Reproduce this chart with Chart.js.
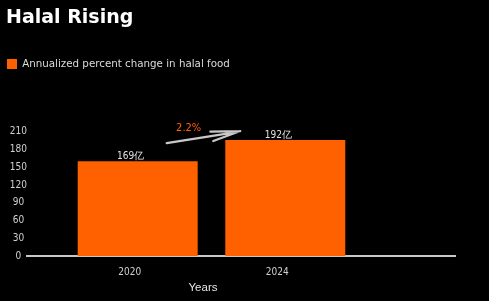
<!DOCTYPE html>
<html>
<head>
<meta charset="utf-8">
<script src="https://cdn.jsdelivr.net/npm/chart.js@4"></script>
<style>
  html, body { margin: 0; padding: 0; background: #000; }
  #wrap { width: 489px; height: 301px; }
</style>
</head>
<body>
<div id="wrap"><canvas id="c" width="489" height="301"></canvas></div>
<script>
// ---- data ----
const years = ['2020', '2024'];
const barValues = [160, 196];            // bar heights
const valueLabels = ['169亿', '192亿'];   // labels printed above the bars
const growthLabel = '2.2%';
const seriesName = 'Annualized percent change in halal food';
const titleText = 'Halal Rising';
const xTitle = 'Years';
const yTicks = [0, 30, 60, 90, 120, 150, 180, 210];

const ORANGE = 'rgb(255,96,0)';
const NARROW = '"Liberation Sans Narrow", "DejaVu Sans Condensed", "Liberation Sans", sans-serif';

const annotations = {
  id: 'annotations',
  beforeInit(chart) {
    const lg = chart.legend;
    const orig = lg.fit;
    lg.fit = function () {
      orig.call(this);
      this.height = 74;
    };
  },
  afterDatasetsDraw(chart) {
    const ctx = chart.ctx;
    const bars = chart.getDatasetMeta(0).data;
    const area = chart.chartArea;
    ctx.save();
    // value labels
    ctx.font = '10px ' + NARROW;
    ctx.fillStyle = '#e0e0e0';
    ctx.textAlign = 'center';
    ctx.textBaseline = 'middle';
    bars.forEach((b, i) => {
      ctx.fillText(valueLabels[i], b.x - 7, b.y - 5);
    });
    // growth arrow
    const b1 = bars[0], b2 = bars[1];
    const tail = { x: b1.x + b1.width / 2 - 31, y: b2.y + 3 };
    const tip = { x: b2.x - b2.width / 2 + 15, y: b2.y - 9 };
    ctx.strokeStyle = '#c8c8c8';
    ctx.lineWidth = 2.2;
    ctx.lineCap = 'round';
    ctx.beginPath();
    ctx.moveTo(tail.x, tail.y);
    ctx.lineTo(tip.x - 4, tip.y + 1);
    ctx.moveTo(tip.x, tip.y);
    ctx.lineTo(tip.x - 30, tip.y + 0.5);
    ctx.moveTo(tip.x, tip.y);
    ctx.lineTo(tip.x - 27, tip.y + 10);
    ctx.stroke();
    ctx.font = '11px ' + NARROW;
    ctx.fillStyle = ORANGE;
    ctx.fillText(growthLabel, tail.x + 22, tail.y - 15);
    // x axis title
    ctx.font = '11.5px "Liberation Sans", sans-serif';
    ctx.fillStyle = '#e6e6e6';
    ctx.fillText(xTitle, (area.left + area.right) / 2 - 38, 288);
    ctx.restore();
  }
};

new Chart(document.getElementById('c'), {
  type: 'bar',
  data: {
    datasets: [{
      label: seriesName,
      data: years.map((y, i) => ({ x: i, y: barValues[i] })),
      backgroundColor: ORANGE,
      borderWidth: 0,
      barPercentage: 1,
      categoryPercentage: 0.813
    }]
  },
  options: {
    responsive: false,
    devicePixelRatio: 1,
    animation: false,
    layout: { padding: { left: 6, right: 34, top: 0, bottom: 0 } },
    plugins: {
      title: {
        display: true,
        text: titleText,
        align: 'start',
        color: '#ffffff',
        font: { family: '"DejaVu Sans", sans-serif', size: 19, weight: 'bold' },
        padding: { top: 6.5, bottom: 28.5 }
      },
      legend: {
        display: true,
        align: 'start',
        labels: {
          color: '#dcdcdc',
          boxWidth: 10,
          boxHeight: 10,
          padding: 1,
          font: { family: '"DejaVu Sans", sans-serif', size: 10.3 }
        }
      },
      tooltip: { enabled: false }
    },
    scales: {
      x: {
        type: 'linear',
        offset: false,
        min: -0.75,
        max: 2.15,
        grid: { display: false, drawTicks: false },
        border: { display: true, color: '#c8c8c8', width: 2 },
        afterBuildTicks(scale) { scale.ticks = years.map((_, i) => ({ value: i })); },
        afterFit(scale) { scale.height = 45; },
        ticks: {
          color: '#d0d0d0',
          font: { family: NARROW, size: 10 },
          padding: 10,
          labelOffset: -8,
          autoSkip: false,
          maxRotation: 0,
          callback: (v) => years[v]
        }
      },
      y: {
        min: 0,
        max: 210,
        grid: { display: false, drawTicks: false },
        border: { display: false },
        afterBuildTicks(scale) { scale.ticks = yTicks.map(v => ({ value: v })); },
        afterFit(scale) { scale.width = 21; },
        ticks: {
          color: '#d0d0d0',
          font: { family: NARROW, size: 10 },
          padding: 0,
          crossAlign: 'center'
        }
      }
    }
  },
  plugins: [annotations]
});
</script>
</body>
</html>
